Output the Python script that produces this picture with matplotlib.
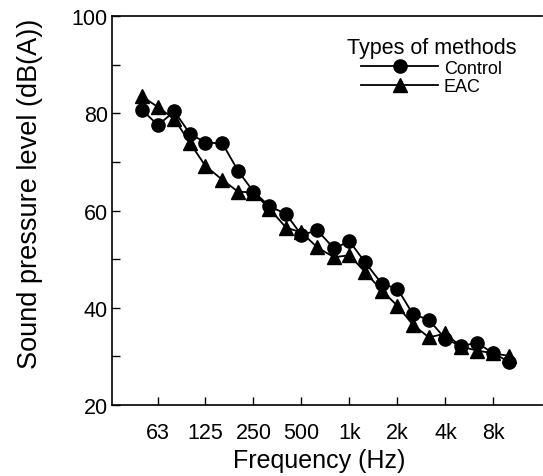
import numpy as np
import matplotlib.pyplot as plt
from matplotlib.ticker import FixedLocator, MultipleLocator

# 1/3 octave band centres (Hz)
freqs = [50, 63, 80, 100, 125, 160, 200, 250, 315, 400, 500, 630, 800,
         1000, 1250, 1600, 2000, 2500, 3150, 4000, 5000, 6300, 8000, 10000]

control = [80.7, 77.6, 80.4, 75.8, 74.0, 73.8, 68.2, 63.9, 60.9, 59.3, 55.0, 55.9,
           52.2, 53.7, 49.4, 44.9, 43.9, 38.7, 37.5, 33.6, 32.1, 32.8, 30.6, 28.9]
eac = [83.5, 81.3, 78.8, 73.9, 69.2, 66.3, 63.9, 63.7, 60.4, 56.5, 55.5, 52.4,
       50.4, 50.8, 47.4, 43.5, 40.4, 36.5, 33.9, 34.7, 32.0, 31.2, 30.6, 30.1]

tick_freqs = [63, 125, 250, 500, 1000, 2000, 4000, 8000]
tick_labels = ["63", "125", "250", "500", "1k", "2k", "4k", "8k"]

plt.rcParams['font.family'] = ['Liberation Sans', 'DejaVu Sans']

fig = plt.figure(figsize=(5.43, 4.77), dpi=100)
ax = fig.add_axes([0.206, 0.149, 0.792, 0.815])

ax.plot(freqs, control, color='black', lw=1.3, marker='o', ms=9.5, label='Control')
ax.plot(freqs, eac, color='black', lw=1.3, marker='^', ms=10, label='EAC')

ax.set_xscale('log', base=2)
ax.set_xlim(32.4, 16100)
ax.set_ylim(20, 100)
ax.xaxis.set_major_locator(FixedLocator(tick_freqs))
ax.set_xticklabels(tick_labels)
ax.xaxis.set_minor_locator(FixedLocator([]))
ax.yaxis.set_major_locator(MultipleLocator(20))
ax.yaxis.set_minor_locator(MultipleLocator(10))

ax.tick_params(which='both', direction='in', length=6, width=1, labelsize=15.5)
ax.tick_params(axis='x', pad=12)
ax.tick_params(axis='y', pad=3)
ax.spines['right'].set_visible(False)
for s in ['left', 'bottom', 'top']:
    ax.spines[s].set_linewidth(1.2)

ax.set_xlabel("Frequency (Hz)", fontsize=18)
ax.set_ylabel("Sound pressure level (dB(A))", fontsize=19.5)
ax.xaxis.set_label_coords(0.481, -0.11)
ax.yaxis.set_label_coords(-0.16, 0.545)

leg = ax.legend(title="Types of methods", loc='upper right', frameon=False,
                fontsize=13, title_fontsize=15.5, handlelength=4.3,
                bbox_to_anchor=(0.965, 0.975), labelspacing=0.1, handletextpad=0.3,
                borderaxespad=0.2)

fig.savefig("out.png", dpi=100)
